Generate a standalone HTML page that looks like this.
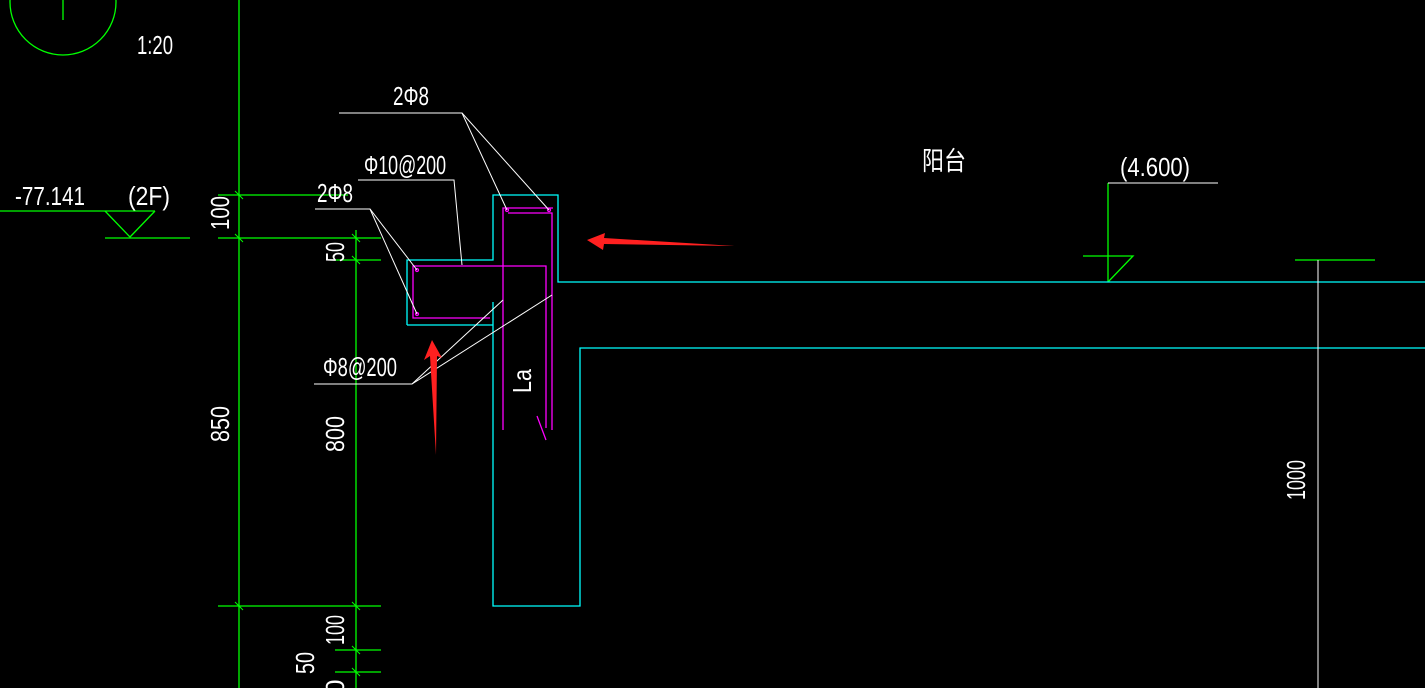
<!DOCTYPE html>
<html><head><meta charset="utf-8"><style>html,body{margin:0;padding:0;background:#000;}svg{display:block}</style></head>
<body>
<svg width="1425" height="688" viewBox="0 0 1425 688" xmlns="http://www.w3.org/2000/svg" font-family="Liberation Sans, Noto Sans CJK SC, sans-serif" fill="none">
<rect width="1425" height="688" fill="#000"/>
<g stroke="#00ff00" stroke-width="1.3">
<circle cx="63" cy="2" r="53"/>
<line x1="63" y1="-10" x2="63" y2="20"/>
<line x1="239" y1="0" x2="239" y2="688"/>
<line x1="356" y1="230" x2="356" y2="688"/>
<line x1="218" y1="195" x2="348" y2="195"/>
<line x1="218" y1="238" x2="381" y2="238"/>
<line x1="335" y1="260" x2="381" y2="260"/>
<line x1="218" y1="606" x2="381" y2="606"/>
<line x1="335" y1="650" x2="381" y2="650"/>
<line x1="335" y1="672" x2="381" y2="672"/>
<line x1="0" y1="211" x2="155" y2="211"/>
<polyline points="105,211 130,237 155,211"/>
<line x1="105" y1="238" x2="190" y2="238"/>
<line x1="1108" y1="183" x2="1108" y2="282"/>
<polyline points="1083,256 1133,256 1108,282"/>
<line x1="1295" y1="260" x2="1375" y2="260"/>
<g stroke-width="1"><line x1="235" y1="191" x2="243" y2="199"/><line x1="235" y1="234" x2="243" y2="242"/><line x1="352" y1="234" x2="360" y2="242"/><line x1="352" y1="256" x2="360" y2="264"/><line x1="235" y1="602" x2="243" y2="610"/><line x1="352" y1="602" x2="360" y2="610"/><line x1="352" y1="646" x2="360" y2="654"/><line x1="352" y1="668" x2="360" y2="676"/></g>
</g>
<g stroke="#00ffff" stroke-width="1.3">
<polyline points="407,325 407,260 493,260 493,195 558,195 558,282 1425,282"/>
<line x1="407" y1="325" x2="493" y2="325"/>
<polyline points="493,302 493,606 580,606 580,348 1425,348"/>
</g>
<g stroke="#ff00ff" stroke-width="1.3">
<polyline points="490,318 413,318 413,266 546,266 546,428"/>
<polyline points="503,430 503,208 553,208"/>
<polyline points="508,213 552,213 552,430"/>
<line x1="537" y1="416" x2="546" y2="440"/>
<circle cx="417" cy="270" r="1.5"/><circle cx="417" cy="314" r="1.5"/><circle cx="507" cy="210" r="1.5"/><circle cx="549" cy="210" r="1.5"/>
</g>
<g stroke="#fff" stroke-width="1">
<polyline points="339,113 462,113 507,210"/><line x1="462" y1="113" x2="549" y2="210"/>
<polyline points="358,180 454,180 462,265"/>
<polyline points="315,209 370,209 417,270"/><line x1="370" y1="209" x2="417" y2="314"/>
<polyline points="314,384 412,384 503,300"/><line x1="412" y1="384" x2="552" y2="295"/>
<line x1="1108" y1="183" x2="1218" y2="183"/>
<line x1="1318" y1="260" x2="1318" y2="688"/>
</g>
<polygon points="587,240 605,233 604,238 735,246 604,244 603,250" fill="#ff2020"/>
<polygon points="432,340 442,358 437,356 436,455 430,356 424,360" fill="#ff2020"/>
<g fill="#fff" font-size="26">
<text x="137" y="54" textLength="36" lengthAdjust="spacingAndGlyphs">1:20</text>
<text x="15" y="205" textLength="70" lengthAdjust="spacingAndGlyphs">-77.141</text>
<text x="128" y="205" textLength="42" lengthAdjust="spacingAndGlyphs">(2F)</text>
<text x="393" y="105" textLength="36" lengthAdjust="spacingAndGlyphs">2Φ8</text>
<text x="364" y="174" textLength="82" lengthAdjust="spacingAndGlyphs">Φ10@200</text>
<text x="317" y="202" textLength="36" lengthAdjust="spacingAndGlyphs">2Φ8</text>
<text x="323" y="376" textLength="74" lengthAdjust="spacingAndGlyphs">Φ8@200</text>
<text x="922" y="170" font-size="26" textLength="44" lengthAdjust="spacingAndGlyphs">阳台</text>
<text x="1120" y="176" textLength="70" lengthAdjust="spacingAndGlyphs">(4.600)</text>
<text transform="translate(229,230) rotate(-90)" textLength="34" lengthAdjust="spacingAndGlyphs">100</text>
<text transform="translate(344,262) rotate(-90)" textLength="20" lengthAdjust="spacingAndGlyphs">50</text>
<text transform="translate(229,442) rotate(-90)" textLength="36" lengthAdjust="spacingAndGlyphs">850</text>
<text transform="translate(344,452) rotate(-90)" textLength="36" lengthAdjust="spacingAndGlyphs">800</text>
<text transform="translate(531,393) rotate(-90)" textLength="24" lengthAdjust="spacingAndGlyphs">La</text>
<text transform="translate(344,645) rotate(-90)" textLength="30" lengthAdjust="spacingAndGlyphs">100</text>
<text transform="translate(314,674) rotate(-90)" textLength="22" lengthAdjust="spacingAndGlyphs">50</text>
<text transform="translate(344,694) rotate(-90)">0</text>
<text transform="translate(1305,500) rotate(-90)" textLength="40" lengthAdjust="spacingAndGlyphs">1000</text>
</g>
</svg>
</body></html>
